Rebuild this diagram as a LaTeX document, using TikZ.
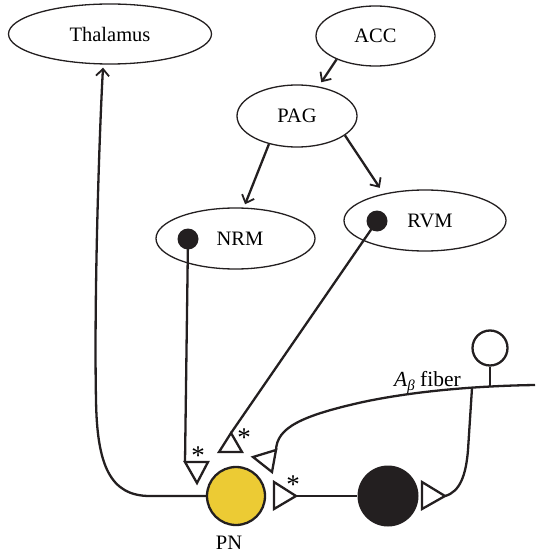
\documentclass[tikz,border=0pt]{standalone}
\usepackage{fontspec}
\setmainfont{Liberation Serif}
\usetikzlibrary{shapes.geometric, arrows.meta}
\definecolor{pnyellow}{RGB}{236,203,52}
\definecolor{ink}{RGB}{35,31,32}
\begin{document}
\begin{tikzpicture}[x=1pt,y=-1pt,
  lbl/.style={font=\fontsize{20.5}{24}\selectfont},
  region/.style={ellipse, draw=ink, line width=1.3pt, inner sep=0pt, lbl},
  conn/.style={draw=ink, line width=2.3pt},
  arr/.style={conn, -{Straight Barb[length=7pt,width=13pt,line width=1.8pt]}},
  tri/.style={draw=ink, line width=2.3pt, fill=white, line join=miter},
  dotnode/.style={circle, fill=ink, inner sep=0pt, minimum size=21pt},
  starlbl/.style={inner sep=0pt, font=\fontsize{27}{27}\selectfont}]
\useasboundingbox (0,0) rectangle (535,556);

% regions
\node[region, minimum width=203pt, minimum height=60pt] (thal) at (110,34) {Thalamus};
\node[region, minimum width=119pt, minimum height=60pt] (acc) at (375.5,36) {ACC};
\node[region, minimum width=120pt, minimum height=62pt] (pag) at (297,116) {PAG};
\node[region, minimum width=159pt, minimum height=61pt] (nrm) at (235.5,238.5) {\hspace*{9pt}NRM};
\node[region, minimum width=162pt, minimum height=61pt] (rvm) at (425,220.5) {\hspace*{10pt}RVM};

% neurons
\node[circle, draw=ink, line width=2.3pt, fill=pnyellow, minimum size=58pt, inner sep=0pt] (pn) at (236,496) {};
\node[circle, fill=ink, minimum size=61pt, inner sep=0pt] (bk) at (388,496) {};
\node[circle, draw=ink, line width=2.3pt, minimum size=35pt, inner sep=0pt] (ab) at (490,348) {};

% coordinates
\coordinate (t1l) at (185,462); \coordinate (t1r) at (208,462); \coordinate (t1p) at (197,483);
\coordinate (t2p) at (231,433); \coordinate (t2l) at (219,452); \coordinate (t2r) at (242,452);
\coordinate (t3p) at (253,457); \coordinate (t3u) at (276,450); \coordinate (t3d) at (272,472);
\coordinate (t4u) at (274,482); \coordinate (t4d) at (274,509); \coordinate (t4p) at (296,496);
\coordinate (t5u) at (422,482); \coordinate (t5d) at (422,509); \coordinate (t5p) at (445,496);
\coordinate (bend) at (150,496);
\coordinate (fibend) at (535,385);
\coordinate (br) at (472,388);
\coordinate (stem) at (490,387);

% arrows between regions
\draw[arr, shorten >=5pt] (acc.211) -- (pag.54);
\draw[arr, shorten >=3.5pt] (pag.225) -- (nrm.75);
\draw[arr, shorten >=7pt] (pag.338) -- (rvm.147);

% PN to thalamus
\draw[arr] (pn.west) -- (bend) .. controls (110,496) and (97,465) .. (96,400)
  .. controls (94,300) and (99,140) .. ([xshift=-7pt,yshift=-3pt]thal.south);

% descending
\draw[conn] (188,239) -- (t1l);
\draw[conn] (377,221) -- (t2p);

% A-beta fiber
\draw[conn] (t3u) .. controls (277,428) and (300,416) .. (363,402)
  .. controls (410,392) and (470,386) .. (fibend);
\draw[conn] (t5p) .. controls (460,492) and (466,475) .. (468,450) -- (br);
\draw[conn] (ab.south) -- (stem);

% PN to interneuron
\draw[conn] (t4p) -- (bk.west);

% dots
\node[dotnode] (nrmdot) at (188,239) {};
\node[dotnode] (rvmdot) at (377,221) {};

% synapses
\draw[tri] (t1l) -- (t1r) -- (t1p) -- cycle;
\draw[tri] (t2p) -- (t2l) -- (t2r) -- cycle;
\draw[tri] (t3p) -- (t3u) -- (t3d) -- cycle;
\draw[tri] (t4u) -- (t4d) -- (t4p) -- cycle;
\draw[tri] (t5u) -- (t5d) -- (t5p) -- cycle;

% labels
\node[starlbl] (s1) at (198,456) {*};
\node[starlbl] (s2) at (244,438) {*};
\node[starlbl] (s4) at (293,485) {*};
\node[lbl] (pnl) at (229,543) {PN};
\node[anchor=base west, inner sep=0pt, font=\fontsize{21.5}{24}\selectfont] (ablbl) at (394,386)
  {\itshape A\raisebox{-4.5pt}{\fontsize{15}{15}\selectfont β}\upshape\ fiber};
\end{tikzpicture}
\end{document}
